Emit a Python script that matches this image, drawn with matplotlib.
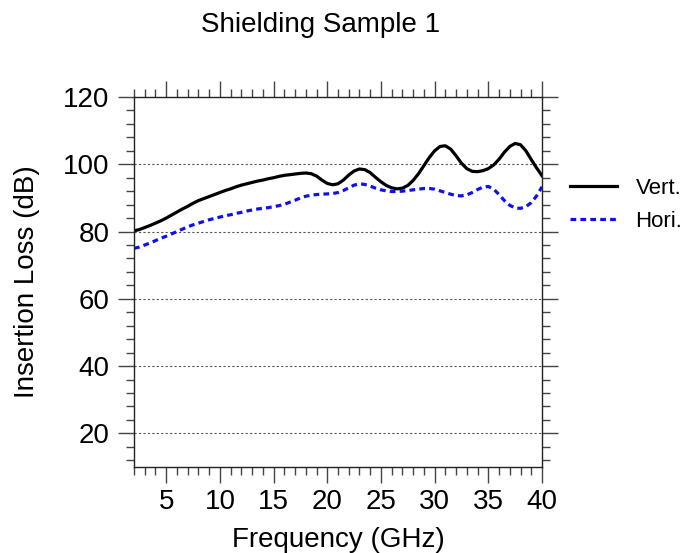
import matplotlib
matplotlib.use("Agg")
import matplotlib.pyplot as plt
from matplotlib.ticker import MultipleLocator

plt.rcParams['font.family'] = ['Liberation Sans', 'DejaVu Sans']

freq = [2, 2.5, 3, 3.5, 4, 4.5, 5, 5.5, 6, 6.5, 7, 7.5, 8, 8.5, 9, 9.5, 10, 10.5,
        11, 11.5, 12, 12.5, 13, 13.5, 14, 14.5, 15, 15.5, 16, 16.5, 17, 17.5, 18, 18.5,
        19, 19.5, 20, 20.5, 21, 21.5, 22, 22.5, 23, 23.5, 24, 24.5, 25, 25.5, 26, 26.5,
        27, 27.5, 28, 28.5, 29, 29.5, 30, 30.5, 31, 31.5, 32, 32.5, 33, 33.5, 34, 34.5,
        35, 35.5, 36, 36.5, 37, 37.5, 38, 38.5, 39, 39.5, 40]
vert = [80.2, 80.6, 81.2, 81.8, 82.5, 83.2, 84.0, 84.9, 85.8, 86.7, 87.5, 88.4, 89.2,
        89.8, 90.4, 91.0, 91.6, 92.2, 92.7, 93.3, 93.8, 94.2, 94.6, 95.0, 95.3, 95.7,
        96.0, 96.4, 96.7, 96.9, 97.1, 97.3, 97.4, 97.2, 96.5, 95.3, 94.3, 93.9, 94.2,
        95.3, 96.8, 98.0, 98.6, 98.4, 97.5, 96.1, 94.8, 93.7, 93.0, 92.7, 92.9, 93.7,
        95.2, 97.2, 99.6, 102.0, 104.0, 105.3, 105.5, 104.5, 102.5, 100.3, 98.7, 97.9,
        97.8, 98.1, 98.7, 99.8, 101.5, 103.6, 105.3, 106.2, 105.8, 104.0, 101.4, 98.9, 96.6]
hori = [75.0, 75.4, 76.0, 76.6, 77.3, 78.0, 78.6, 79.3, 80.0, 80.7, 81.4, 82.0, 82.5,
        83.0, 83.5, 83.9, 84.3, 84.7, 85.0, 85.4, 85.7, 86.1, 86.4, 86.7, 86.9, 87.1,
        87.4, 87.7, 88.1, 88.7, 89.3, 90.0, 90.5, 90.8, 91.0, 91.1, 91.2, 91.3, 91.6,
        92.2, 93.0, 93.8, 94.2, 94.0, 93.5, 92.9, 92.4, 92.1, 91.9, 91.9, 92.0, 92.2,
        92.4, 92.6, 92.8, 92.8, 92.6, 92.1, 91.6, 91.1, 90.7, 90.6, 90.9, 91.6, 92.5,
        93.2, 93.4, 92.6, 91.0, 89.2, 87.8, 87.0, 86.9, 87.4, 88.6, 90.6, 93.3]
series_labels = ["Vert.", "Hori."]
title = "Shielding Sample 1"

fig = plt.figure(figsize=(6.81, 5.53), dpi=100)
ax = fig.add_axes([134/681, 86/553, 408/681, 370/553])

ax.plot(freq, vert, color='black', lw=2.3, label=series_labels[0],
        solid_joinstyle='round')
ax.plot(freq, hori, color='#1010ee', lw=2.3, ls=(0, (1.8, 1.3)), label=series_labels[1])

ax.set_xlim(2, 40)
ax.set_ylim(10, 120)
ax.xaxis.set_major_locator(MultipleLocator(5))
ax.xaxis.set_minor_locator(MultipleLocator(1))
ax.yaxis.set_major_locator(MultipleLocator(20))
ax.yaxis.set_minor_locator(MultipleLocator(4))

for y in [20, 40, 60, 80, 100]:
    ax.axhline(y, color='#555555', lw=0.8, ls=(0, (2, 2)), zorder=0)

ax.tick_params(which='both', direction='out', top=True, right=True,
               labeltop=False, labelright=False, color='#444444', width=1.0)
ax.tick_params(which='major', length=11.5, labelsize=20, pad=4)
ax.tick_params(axis='y', which='major', pad=6)
ax.tick_params(which='minor', length=5.5)
for s in ax.spines.values():
    s.set_linewidth(1.0)
    s.set_color('#222222')

ax.set_xlabel("Frequency (GHz)", fontsize=20, labelpad=9)
ax.set_ylabel("Insertion Loss (dB)", fontsize=20, labelpad=17)
fig.text(321/681, 1 - 25/553, title, fontsize=20, ha='center', va='center')

fig.legend(loc='center left', bbox_to_anchor=(570/681, 1 - 205/553), frameon=False,
           fontsize=16, handlelength=2.1, handletextpad=0.85, labelspacing=0.55,
           borderpad=0, borderaxespad=0)

fig.savefig("out.png", dpi=100)
